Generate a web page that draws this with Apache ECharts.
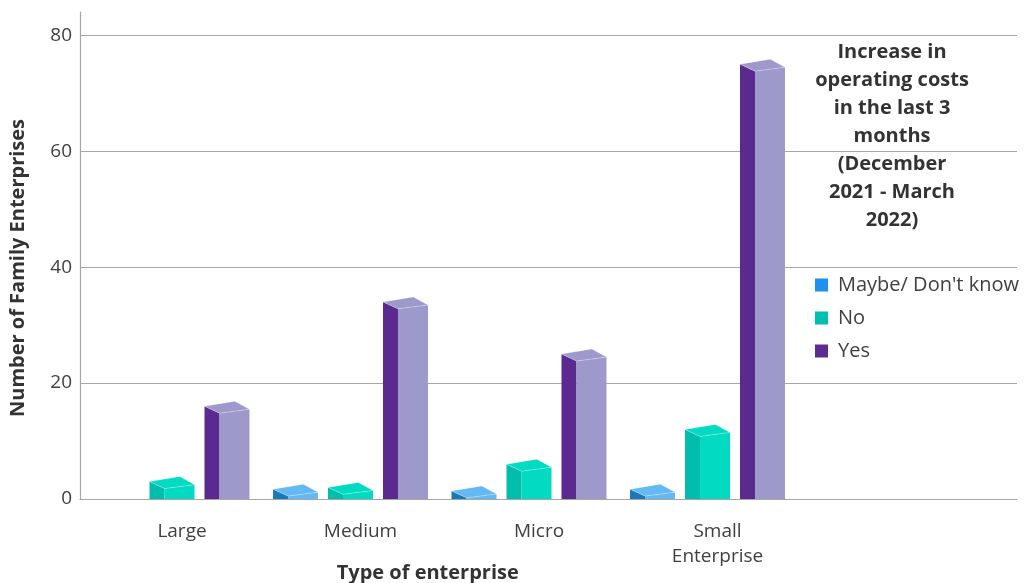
<!DOCTYPE html>
<html>
<head>
<meta charset="utf-8">
<script src="https://cdn.jsdelivr.net/npm/echarts@6/dist/echarts.min.js"></script>
<style>html,body{margin:0;padding:0;background:#fff}#c{width:1024px;height:583px}</style>
</head>
<body>
<div id="c"></div>
<script>
const categories = ['Large', 'Medium', 'Micro', 'Small\nEnterprise'];
const seriesNames = ['Maybe/ Don\'t know', 'No', 'Yes'];
const maybeVals = [0, 1.7, 1.4, 1.7];
const noVals = [3, 2, 6, 12];
const yesVals = [16, 34, 25, 75];
const yTicks = [0, 20, 40, 60, 80];

const FONT = '"Open Sans", "Noto Sans", sans-serif';
const palettes = [
  {legend: '#1e90ee', front: '#64b9f4', side: '#1878bb'},
  {legend: '#00bfae', front: '#02dac2', side: '#00bdac'},
  {legend: '#5c2d91', front: '#9d99ca', side: '#5b2a8f'}
];
// left-edge offsets of each series' box inside a category band (fraction of band)
const offs = [-0.49, -0.182, 0.126];

function makeRender(si) {
  return function (params, api) {
    const v = api.value(1);
    if (!v) return;
    const ci = api.value(0);
    const top = api.coord([ci, v]);
    const base = api.coord([ci, 0])[1];
    const band = api.size([1, 0])[0];
    const x0 = top[0] + band * offs[si];
    const x1 = x0 + band * 0.084;
    const x2 = x0 + band * 0.252;
    const xb = x0 + band * 0.17;
    const yv = top[1];
    const cl = y => Math.min(y, base);
    const p = palettes[si];
    const dy1 = band * 0.039, dy2 = band * 0.017, dy3 = band * 0.028;
    return {
      type: 'group',
      children: [
        {type: 'polygon', shape: {points: [[x0, cl(yv)], [x1, cl(yv + dy1)], [x1, base], [x0, base]]},
          style: {fill: p.side}},
        {type: 'polygon', shape: {points: [[x1, cl(yv + dy1)], [x2, cl(yv + dy2)], [x2, base], [x1, base]]},
          style: {fill: p.front}},
        {type: 'polygon', shape: {points: [[x0, cl(yv)], [xb, cl(yv - dy3)], [x2, cl(yv + dy2)], [x1, cl(yv + dy1)]]},
          style: {fill: p.front, stroke: 'rgba(255,255,255,0.35)', lineWidth: 0.8}}
      ]
    };
  };
}

const valsList = [maybeVals, noVals, yesVals];
const series = valsList.map((vals, si) => ({
  type: 'custom',
  name: seriesNames[si],
  xAxisIndex: 1,
  yAxisIndex: 1,
  renderItem: makeRender(si),
  itemStyle: {color: palettes[si].legend},
  encode: {x: 0, y: 1},
  data: vals.map((v, i) => [i, v])
}));

const chart = echarts.init(document.getElementById('c'));
chart.setOption({
  animation: false,
  backgroundColor: '#fff',
  textStyle: {fontFamily: FONT},
  title: {
    text: 'Increase in\noperating costs\nin the last 3\nmonths\n(December\n2021 - March\n2022)',
    left: 887, top: 33, textAlign: 'center',
    textStyle: {fontFamily: FONT, fontSize: 20, fontWeight: 'bold', color: '#333', lineHeight: 28}
  },
  legend: {
    orient: 'vertical', left: 810, top: 270,
    itemWidth: 13, itemHeight: 13, itemGap: 13, icon: 'rect',
    data: seriesNames,
    textStyle: {fontFamily: FONT, fontSize: 20, color: '#404040', padding: [0, 0, 0, 5]}
  },
  grid: [
    {left: 80, right: 7, top: 12, bottom: 84, outerBoundsMode: 'none', containLabel: false},
    {left: 92.75, width: 714, top: 12, bottom: 84, outerBoundsMode: 'none', containLabel: false}
  ],
  xAxis: [
    {type: 'category', gridIndex: 0, data: categories, axisLine: {lineStyle: {color: '#a6a6a6', width: 1.2}},
      axisTick: {show: false}, axisLabel: {show: false}, splitLine: {show: false}},
    {type: 'category', gridIndex: 1, data: categories, axisLine: {show: false}, axisTick: {show: false},
      axisLabel: {fontFamily: FONT, fontSize: 19, color: '#404040', margin: 20, lineHeight: 25},
      name: 'Type of enterprise', nameLocation: 'middle', nameGap: 64, nameMoveOverlap: false,
      nameTextStyle: {fontFamily: FONT, fontSize: 20, fontWeight: 'bold', color: '#333', padding: [0, 44, 0, 0]}}
  ],
  yAxis: [
    {type: 'value', gridIndex: 0, min: 0, max: 84, interval: 20,
      axisLine: {show: true, lineStyle: {color: '#a6a6a6', width: 1.2}}, axisTick: {show: false},
      axisLabel: {fontFamily: FONT, fontSize: 19, color: '#404040', margin: 8,
        formatter: v => (yTicks.indexOf(v) >= 0 ? String(v) : '')},
      splitLine: {show: true, lineStyle: {color: ['#a6a6a6', '#a6a6a6', '#a6a6a6', '#a6a6a6', '#a6a6a6', 'rgba(0,0,0,0)'], width: 1.2}},
      name: 'Number of Family Enterprises', nameLocation: 'middle', nameGap: 52, nameRotate: 90, nameMoveOverlap: false,
      nameTextStyle: {fontFamily: FONT, fontSize: 20, fontWeight: 'bold', color: '#333', padding: [0, 25, 0, 0]}},
    {type: 'value', gridIndex: 1, min: 0, max: 84, interval: 20, show: false, splitLine: {show: false}}
  ],
  series: series
});
</script>
</body>
</html>
